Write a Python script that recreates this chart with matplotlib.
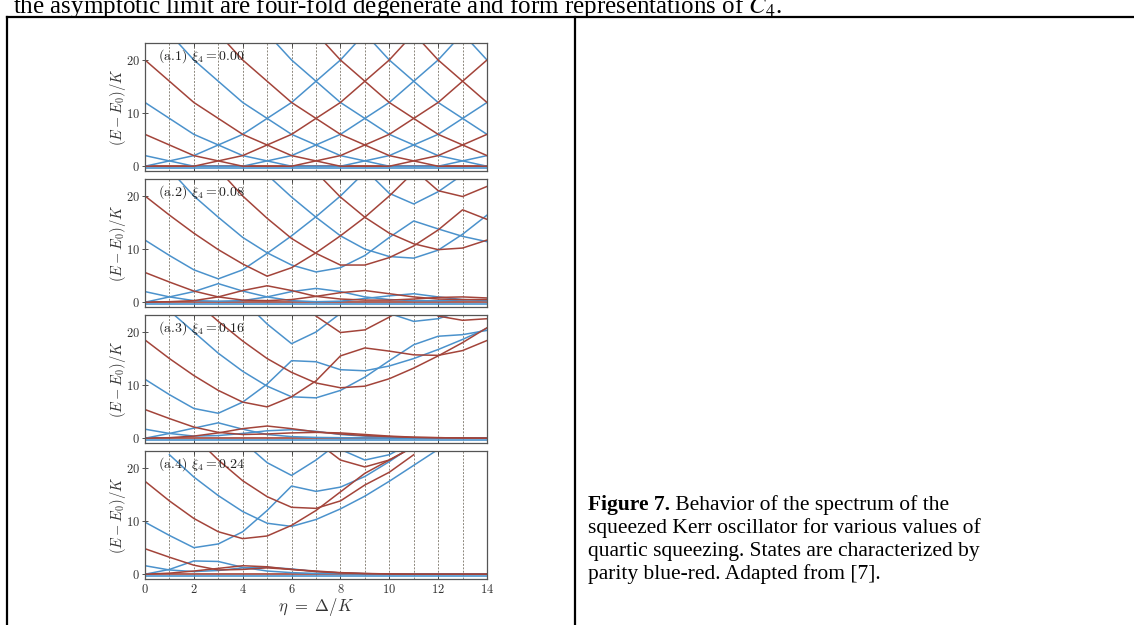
import numpy as np
import matplotlib.pyplot as plt
from matplotlib.lines import Line2D

N = np.nan
eta = list(range(15))

# flat ground pair, drawn in every panel
ground_red = [0.0] * 15
ground_blue = [-0.3] * 15

# (a.1) xi4 = 0.00 : straight-line lattice
a1_blue = [
    [0, 1, 2, 4, 6, 9, 12, 16, 20, 25, 30, N, N, N, N],
    [2, 1, 0, 0, 0, 1, 2, 4, 6, 9, 12, 16, 20, 25, 30],
    [12, 9, 6, 4, 2, 1, 0, 0, 0, 1, 2, 4, 6, 9, 12],
    [30, 25, 20, 16, 12, 9, 6, 4, 2, 1, 0, 0, 0, 1, 2],
    [N, N, N, 36, 30, 25, 20, 16, 12, 9, 6, 4, 2, 1, 0],
    [N, N, N, N, N, N, N, 36, 30, 25, 20, 16, 12, 9, 6],
    [N, N, N, N, N, N, N, N, N, N, N, 36, 30, 25, 20],
]
a1_red = [
    [0, 0, 0, 1, 2, 4, 6, 9, 12, 16, 20, 25, 30, N, N],
    [6, 4, 2, 1, 0, 0, 0, 1, 2, 4, 6, 9, 12, 16, 20],
    [20, 16, 12, 9, 6, 4, 2, 1, 0, 0, 0, 1, 2, 4, 6],
    [N, 36, 30, 25, 20, 16, 12, 9, 6, 4, 2, 1, 0, 0, 0],
    [N, N, N, N, N, 36, 30, 25, 20, 16, 12, 9, 6, 4, 2],
    [N, N, N, N, N, N, N, N, N, 36, 30, 25, 20, 16, 12],
]

# (a.2) xi4 = 0.08
a2_blue = [
    [0, 1, 2, 3.5, 2.1, 1.0, 0.3, 0.1, 0.2, 0.7, 1.2, 1.6, 1.0, 0.5, 0.3],
    [2, 1, 0.3, 0.2, 0.3, 1.0, 2.0, 2.6, 2.0, 1.0, 0.5, 0.3, 0.3, 0.4, 0.5],
    [11.7, 8.8, 6.1, 4.4, 6.1, 9.2, 12.5, 16.1, 20, 24.5, 29, N, N, N, N],
    [30, 25, 20, 16, 12.2, 9.3, 7.0, 5.7, 6.5, 8.8, 12.2, 15.3, 13.8, 12.4, 11.4],
    [N, N, N, 34, 29, 24, 19.8, 16, 12.5, 10, 8.6, 8.3, 9.8, 12.8, 16.4],
    [N, N, N, N, N, N, N, 35, 30, 25, 20.5, 18.5, 20.8, 24, 28],
]
a2_red = [
    [0, 0.1, 0.3, 1.0, 2.2, 3.1, 2.2, 1.1, 0.6, 0.4, 0.4, 0.6, 0.9, 1.0, 0.8],
    [5.6, 3.8, 2.1, 1.0, 0.4, 0.3, 0.5, 1.1, 1.8, 2.2, 1.6, 1.0, 0.6, 0.5, 0.5],
    [20, 16.4, 13, 9.9, 7.2, 4.9, 6.5, 9.3, 12.5, 16, 20, 24.5, 29, N, N],
    [N, 35, 30, 25, 20, 15.8, 12, 9.2, 7.0, 7.0, 8.4, 10.6, 13.6, 17.4, 15.6],
    [N, N, N, N, N, 35, 30, 24.5, 19.8, 16, 13, 11, 9.9, 10.2, 11.7],
    [N, N, N, N, N, N, N, N, N, 35, 30, 25, 21, 19.9, 21.8],
]

# (a.3) xi4 = 0.16
a3_blue = [
    [0, 0.9, 1.9, 2.9, 1.7, 0.7, 0.3, 0.15, 0.1, 0.05, 0, 0, 0, 0, 0],
    [1.7, 0.9, 0.4, 0.5, 0.9, 1.4, 1.6, 1.3, 0.7, 0.4, 0.2, 0.1, 0.05, 0, 0],
    [11.1, 8.2, 5.6, 4.7, 6.8, 10.2, 14.6, 14.4, 12.9, 12.7, 13.6, 15.0, 16.7, 18.6, 20.7],
    [29, 24, 20, 16, 12.6, 9.8, 7.8, 7.6, 9.0, 11.5, 14.6, 17.6, 19.2, 19.5, 20.3],
    [N, N, N, 33, 26, 21.5, 17.8, 20, 23.5, 27, N, N, N, N, N],
    [N, N, N, N, N, N, N, N, 33, 27, 23.5, 22, 22.5, 24, 26],
]
a3_red = [
    [0, 0.1, 0.4, 1.0, 1.8, 2.3, 1.8, 1.2, 0.8, 0.5, 0.3, 0.15, 0.1, 0.05, 0],
    [5.4, 3.7, 2.1, 1.1, 0.7, 0.8, 1.0, 1.1, 1.0, 0.7, 0.4, 0.2, 0.1, 0.05, 0],
    [18.5, 15, 11.8, 9.0, 6.8, 5.9, 7.8, 10.8, 15.5, 17.0, 16.4, 15.7, 15.6, 16.5, 18.4],
    [N, N, 26, 22, 18.3, 15, 12.4, 10.4, 9.5, 9.8, 11.2, 13.2, 15.5, 18.0, 20.8],
    [N, N, N, N, N, N, 28, 23, 19.9, 20.4, 22.8, 25.7, N, N, N],
    [N, N, N, N, N, N, N, N, N, N, 30, 26, 23, 22.2, 22.5],
]

# (a.4) xi4 = 0.24
a4_blue = [
    [0, 0.9, 2.5, 2.4, 1.3, 0.6, 0.3, 0.15, 0.1, 0.05, 0, 0, 0, 0, 0],
    [1.6, 0.8, 0.5, 0.7, 1.2, 1.3, 1.0, 0.5, 0.25, 0.1, 0.05, 0, 0, 0, 0],
    [9.8, 7.3, 5.0, 5.7, 8.0, 12.0, 16.6, 15.6, 16.4, 18.4, 21.2, 24.3, N, N, N],
    [N, 22.5, 18.3, 14.8, 11.8, 9.6, 9.0, 10.3, 12.3, 14.7, 17.5, 20.5, 23.5, N, N],
    [N, N, N, 29, 25, 21, 18.6, 21.5, 25, N, N, N, N, N, N],
    [N, N, N, N, N, N, N, 27, 23.5, 21.5, 22.5, 25, N, N, N],
]
a4_red = [
    [0, 0.2, 0.6, 1.1, 1.6, 1.4, 0.9, 0.5, 0.25, 0.1, 0.05, 0, 0, 0, 0],
    [4.8, 3.2, 1.7, 0.8, 0.9, 1.2, 0.9, 0.6, 0.3, 0.15, 0.05, 0, 0, 0, 0],
    [17.5, 13.8, 10.5, 8.0, 6.7, 7.2, 9.2, 12.0, 15.5, 19.0, 21.5, 24, N, N, N],
    [N, N, 26, 21.5, 17.6, 14.6, 12.6, 12.4, 13.8, 16.8, 19.2, 22.5, N, N, N],
    [N, N, N, N, N, N, N, 25, 21.5, 20.2, 21.5, 24, N, N, N],
]

xi4_labels = ['0.00', '0.08', '0.16', '0.24']

caption = ['squeezed Kerr oscillator for various values of',
           'quartic squeezing. States are characterized by',
           'parity blue-red. Adapted from [7].']

plt.rcParams['font.family'] = 'serif'
plt.rcParams['font.serif'] = ['cmr10']
plt.rcParams['mathtext.fontset'] = 'cm'
plt.rcParams['axes.unicode_minus'] = False
plt.rcParams['axes.formatter.use_mathtext'] = True

BLUE = '#4b92cc'
RED = '#a3443a'

W, H = 1134, 625
fig = plt.figure(figsize=(W / 100, H / 100), dpi=100)

def fx(px):
    return px / W

def fy(py):
    return 1 - py / H

panels = [(a1_blue, a1_red), (a2_blue, a2_red), (a3_blue, a3_red), (a4_blue, a4_red)]
tops = [43, 179, 315, 451]

for i, (blues, reds) in enumerate(panels):
    ax = fig.add_axes([fx(145), fy(tops[i] + 128), 342 / W, 128 / H])
    for k in range(1, 14):
        ax.axvline(k, color='#8c877c', lw=0.7, ls=(0, (2, 1.5)), zorder=0)
    ax.plot(eta, ground_blue, color=BLUE, lw=1.2)
    ax.plot(eta, ground_red, color=RED, lw=1.2)
    for y in blues:
        ax.plot(eta, y, color=BLUE, lw=1.1)
    for y in reds:
        ax.plot(eta, y, color=RED, lw=1.1)
    ax.set_xlim(0, 14)
    ax.set_ylim(-0.9, 23.2)
    ax.set_yticks([0, 10, 20])
    ax.set_xticks(range(0, 15, 2))
    for s in ax.spines.values():
        s.set_color('#555555')
        s.set_linewidth(0.9)
    ax.tick_params(axis='x', direction='in', length=3, width=0.6, top=True,
                   labelsize=9, pad=3, colors='#333333')
    ax.tick_params(axis='y', direction='inout', length=4, width=0.6,
                   labelsize=9, pad=1.5, colors='#333333')
    ax.set_ylabel(r'$(E - E_0)/K$', fontsize=10.5, color='#333333')
    ax.yaxis.set_label_coords(-0.05, 0.5)
    ax.text(0.55, 20.7, r'(a.%d) $\xi_4 = %s$' % (i + 1, xi4_labels[i]),
            fontsize=10, va='center', color='#222222')
    if i < 3:
        ax.tick_params(labelbottom=False)
    else:
        ax.set_xlabel(r'$\eta\ =\ \Delta/K$', fontsize=12, labelpad=0, color='#333333')

# page / table frame
for xs, ys in [([fx(7), 1], [fy(17), fy(17)]),
               ([fx(7), fx(7)], [fy(17), 0]),
               ([fx(575), fx(575)], [fy(17), 0])]:
    fig.add_artist(Line2D(xs, ys, color='black', lw=1.6))

fig.text(fx(13), fy(13),
         'the asymptotic limit are four-fold degenerate and form representations of $C_4$.',
         family='Liberation Serif', math_fontfamily='stix', fontsize=18, va='baseline')

t = fig.text(fx(588), fy(510), 'Figure 7.', family='Liberation Serif',
             weight='bold', fontsize=15.5, va='baseline')
fig.canvas.draw()
bb = t.get_window_extent()
fig.text(bb.x1 / W, fy(510), ' Behavior of the spectrum of the',
         family='Liberation Serif', fontsize=15.5, va='baseline')
for j, line in enumerate(caption):
    fig.text(fx(588), fy(533 + 23 * j), line, family='Liberation Serif',
             fontsize=15.5, va='baseline')

fig.savefig('out.png', dpi=100)
